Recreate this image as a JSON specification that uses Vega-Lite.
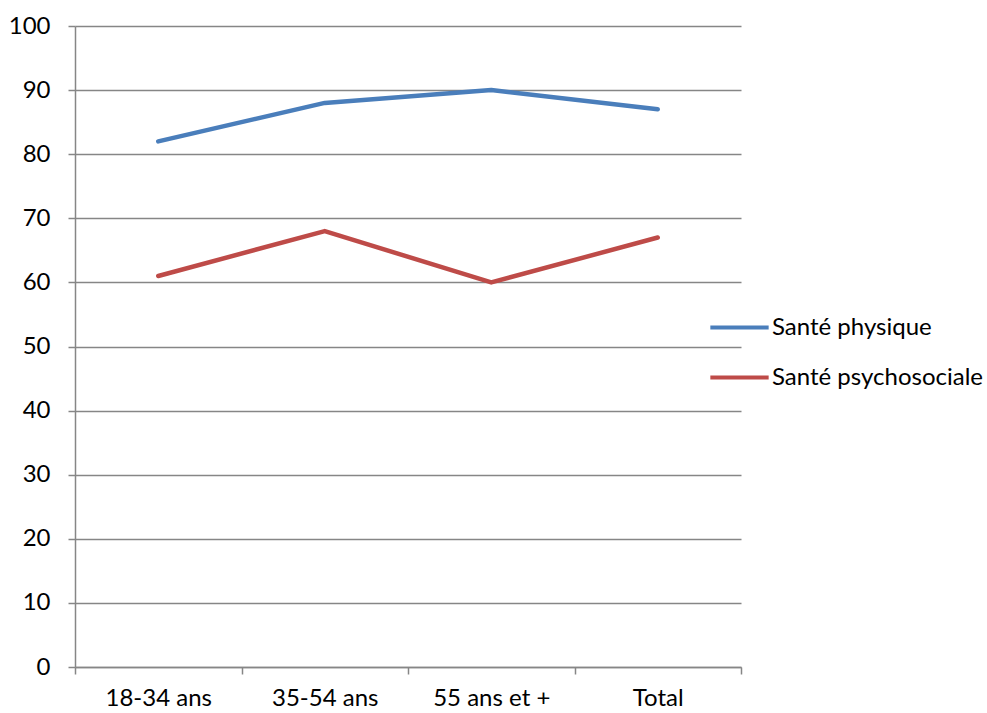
{
  "$schema": "https://vega.github.io/schema/vega-lite/v6.json",
  "autosize": "none",
  "padding": {"left": 75, "top": 26, "right": 246, "bottom": 46},
  "width": 666,
  "height": 641,
  "background": "white",
  "config": {
    "font": "Lato",
    "view": {"stroke": null}
  },
  "data": {
    "values": [
      {"groupe": "18-34 ans", "serie": "Santé physique", "valeur": 82},
      {"groupe": "35-54 ans", "serie": "Santé physique", "valeur": 88},
      {"groupe": "55 ans et +", "serie": "Santé physique", "valeur": 90},
      {"groupe": "Total", "serie": "Santé physique", "valeur": 87},
      {"groupe": "18-34 ans", "serie": "Santé psychosociale", "valeur": 61},
      {"groupe": "35-54 ans", "serie": "Santé psychosociale", "valeur": 68},
      {"groupe": "55 ans et +", "serie": "Santé psychosociale", "valeur": 60},
      {"groupe": "Total", "serie": "Santé psychosociale", "valeur": 67}
    ]
  },
  "mark": {"type": "line", "strokeWidth": 4.5, "strokeCap": "round", "strokeJoin": "round"},
  "encoding": {
    "x": {
      "field": "groupe",
      "type": "nominal",
      "sort": null,
      "bandPosition": 0.5,
      "scale": {"type": "band", "paddingInner": 0, "paddingOuter": 0},
      "axis": {
        "title": null,
        "labelAngle": 0,
        "labelFontSize": 24,
        "labelColor": "#000000",
        "labelPadding": 12,
        "tickBand": "extent",
        "tickSize": 7,
        "tickColor": "#868686",
        "tickWidth": 1.5,
        "domainColor": "#868686",
        "domainWidth": 1.5,
        "grid": false
      }
    },
    "y": {
      "field": "valeur",
      "type": "quantitative",
      "scale": {"domain": [0, 100], "nice": false},
      "axis": {
        "title": null,
        "values": [0, 10, 20, 30, 40, 50, 60, 70, 80, 90, 100],
        "labelFontSize": 24,
        "labelColor": "#000000",
        "labelPadding": 18,
        "tickSize": 7,
        "tickColor": "#868686",
        "tickWidth": 1.5,
        "domainColor": "#868686",
        "domainWidth": 1.5,
        "grid": true,
        "gridColor": "#868686",
        "gridWidth": 1.5,
        "gridOpacity": 1
      }
    },
    "color": {
      "field": "serie",
      "type": "nominal",
      "scale": {"domain": ["Santé physique", "Santé psychosociale"], "range": ["#4A7EBB", "#BE4B48"]},
      "legend": {
        "title": null,
        "orient": "none",
        "legendX": 633,
        "legendY": 270,
        "symbolType": "stroke",
        "symbolSize": 3400,
        "symbolStrokeWidth": 4,
        "labelFontSize": 24,
        "labelColor": "#000000",
        "labelOffset": 1,
        "labelLimit": 0,
        "rowPadding": 6
      }
    }
  }
}
